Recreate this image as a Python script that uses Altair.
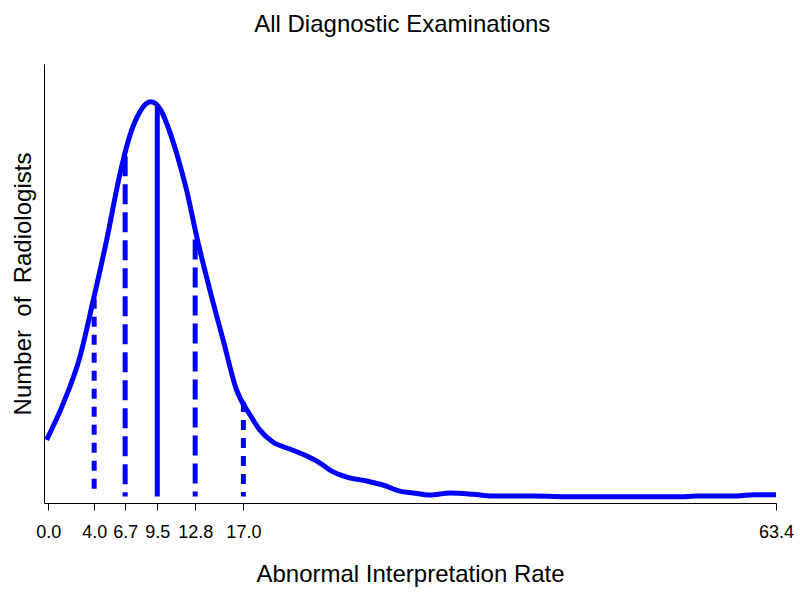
import altair as alt
import pandas as pd

# Smoothed distribution curve (abnormal interpretation rate vs relative number of radiologists)
curve_rate = [-0.14, 1.31, 2.76, 3.92, 5.09, 6.25, 7.12, 7.99, 8.5, 8.9, 9.3, 9.8, 10.31, 11.18,
              12.05, 12.93, 14.08, 15.24, 16.41, 17.57, 18.44, 19.57, 21.05, 22.53, 23.67,
              24.54, 26.02, 27.76, 29.15, 30.63, 31.77, 33.25, 35.0, 37.0, 38.7, 42.2,
              46.0, 50.0, 55.0, 56.5, 60.0, 61.5, 63.4]
curve_count = [12.9, 21.2, 31.8, 44.7, 58.4, 73.5, 82.3, 87.6, 89.4, 89.9, 89.6, 88.0, 85.0, 78.2,
               69.8, 59.2, 47.0, 35.6, 24.2, 18.6, 15.1, 12.4, 10.8, 9.2, 7.6,
               6.0, 4.4, 3.5, 2.6, 1.2, 0.8, 0.3, 0.8, 0.5, 0.1, 0.1,
               -0.1, -0.1, -0.1, 0.1, 0.1, 0.4, 0.4]

# Reference lines (percentiles / median)
marker_rate = [4.0, 6.7, 9.5, 12.8, 17.0]
marker_count = [45.0, 77.5, 88.8, 58.5, 21.5]
marker_style = ["dotted", "dashed", "solid", "dashed", "dotted"]

tick_values = [0.0, 4.0, 6.7, 9.5, 12.8, 17.0, 63.4]

curve_df = pd.DataFrame({"rate": curve_rate, "count": curve_count})
marker_df = pd.DataFrame({"rate": marker_rate, "count": marker_count,
                          "base": [0.0] * len(marker_rate), "style": marker_style})

FONT = "Liberation Sans"
BLUE = "#0000FF"
NB = "\u00a0"

x_scale = alt.Scale(domain=[-0.37, 63.4], nice=False, zero=False)
y_scale = alt.Scale(domain=[-1.5, 98.5], nice=False, zero=False)

x_axis = alt.Axis(
    title="Abnormal Interpretation Rate",
    values=tick_values, format=".1f", grid=False,
    domainColor="black", tickColor="black", tickSize=7,
    labelFont=FONT, labelFontSize=18, labelColor="black", labelPadding=13,
    labelOverlap=False, labelFlush=False,
    titleFont=FONT, titleFontSize=24, titleFontWeight="normal", titleColor="black",
    titlePadding=21,
)
y_axis = alt.Axis(
    title=f"Number{NB} of{NB} Radiologists", labels=False, ticks=False, grid=False,
    domainColor="black",
    titleFont=FONT, titleFontSize=24, titleFontWeight="normal", titleColor="black",
    titlePadding=9,
)

curve = alt.Chart(curve_df).mark_line(color=BLUE, strokeWidth=5, interpolate="monotone").encode(
    x=alt.X("rate:Q", scale=x_scale, axis=x_axis),
    y=alt.Y("count:Q", scale=y_scale, axis=y_axis),
)

rules = alt.Chart(marker_df).mark_rule(color=BLUE, strokeWidth=5).encode(
    x=alt.X("rate:Q", scale=x_scale),
    y=alt.Y("count:Q", scale=y_scale),
    y2="base:Q",
    strokeDash=alt.StrokeDash(
        "style:N",
        scale=alt.Scale(domain=["dotted", "dashed", "solid"],
                        range=[[10, 8], [20, 8], [1, 0]]),
        legend=None,
    ),
)

chart = (
    alt.layer(rules, curve)
    .properties(
        width=732, height=439,
        title=alt.TitleParams("All Diagnostic Examinations", font=FONT, fontSize=24,
                              fontWeight="normal", color="black", frame="bounds",
                              anchor="middle", offset=27),
        autosize=alt.AutoSizeParams(type="none"),
        padding={"left": 44, "top": 64, "right": 24, "bottom": 97},
        view=alt.ViewBackground(strokeOpacity=0, strokeWidth=0),
    )
    .configure_view(strokeOpacity=0, strokeWidth=0)
    .configure_axis(labelFont=FONT, titleFont=FONT)
    .configure(background="white")
)

chart.save("out.html", embed_options={"renderer": "svg", "actions": False})
